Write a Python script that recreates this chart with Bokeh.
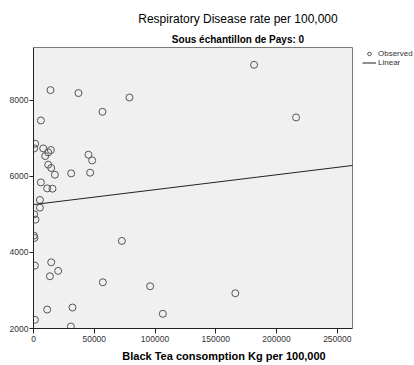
from bokeh.plotting import figure
from bokeh.models import (Range1d, Legend, LegendItem, FixedTicker, ColumnDataSource,
                          Label, BasicTickFormatter)
from bokeh.embed import file_html
from bokeh.resources import INLINE

# Data
tea = [13980, 37000, 56750, 6070, 1400, 580, 7980, 14300, 12090, 9620,
       45230, 48270, 12090, 14560, 17600, 31000, 46630, 6070, 11270, 15630,
       5260, 5260, 580, 1640, 330, 820, 1150, 14560, 20310, 13490,
       57070, 11270, 32070, 1150, 30760, 181500, 78950, 216050, 72700, 95980,
       106400, 166100]
resp = [8261, 8183, 7692, 7464, 6853, 6730, 6730, 6687, 6624, 6530,
        6564, 6415, 6302, 6215, 6039, 6074, 6092, 5837, 5680, 5672,
        5376, 5174, 4998, 4859, 4440, 4380, 3652, 3739, 3513, 3372,
        3214, 2498, 2551, 2228, 2052, 8925, 8067, 7543, 4300, 3110,
        2386, 2926]
fit_intercept = 5255
fit_slope = 0.00391
x_ticks = [0, 50000, 100000, 150000, 200000, 250000]
y_ticks = [2000, 4000, 6000, 8000]
x_lo, x_hi = 0, 262500
y_lo, y_hi = 2000, 9380

title_text = "Respiratory Disease rate per 100,000"
subtitle_text = "Sous échantillon de Pays: 0"
x_label = "Black Tea consomption Kg per 100,000"

FONT = "Liberation Sans"

# Layout (pixels): plot area spans 33..352 x 47..328 on a 414x365 canvas.
W, H = 414, 365
L, R, T, B = 33, 352, 47, 328
area_w, area_h = R - L, B - T
frame_w, frame_h = W - L, B          # frame extended to the right and top edges
xpp = (x_hi - x_lo) / area_w
ypp = (y_hi - y_lo) / area_h
x_ext = x_lo + frame_w * xpp
y_ext = y_lo + frame_h * ypp

p = figure(width=W, height=H, output_backend="svg", toolbar_location=None,
           x_range=Range1d(x_lo, x_ext), y_range=Range1d(y_lo, y_ext),
           min_border_left=L, min_border_right=0, min_border_top=0,
           min_border_bottom=H - B)
p.background_fill_color = "white"
p.border_fill_color = "white"
p.outline_line_color = None
p.grid.visible = False

# plot area background
p.quad(left=[x_lo], right=[x_hi], bottom=[y_lo], top=[y_hi],
       fill_color="#f0f0f0", line_color="#7a7a7a", line_width=1)

for ax in (p.xaxis[0], p.yaxis[0]):
    ax.axis_line_color = "#222222"
    ax.major_tick_line_color = "#222222"
    ax.minor_tick_line_color = None
    ax.major_tick_in = 0
    ax.major_label_text_font = FONT
    ax.major_label_text_font_size = "8.5px"
    ax.major_label_text_color = "#333333"

p.xaxis[0].bounds = (x_lo, x_hi)
p.yaxis[0].bounds = (y_lo, y_hi)
p.xaxis[0].ticker = FixedTicker(ticks=x_ticks)
p.yaxis[0].ticker = FixedTicker(ticks=y_ticks)
p.xaxis[0].formatter = BasicTickFormatter(use_scientific=False)
p.yaxis[0].formatter = BasicTickFormatter(use_scientific=False)
p.xaxis[0].major_tick_out = 5
p.yaxis[0].major_tick_out = 4
p.xaxis[0].major_label_standoff = 2
p.yaxis[0].major_label_standoff = 1
p.xaxis[0].axis_label = x_label
p.xaxis[0].axis_label_text_font = FONT
p.xaxis[0].axis_label_text_font_size = "11px"
p.xaxis[0].axis_label_text_font_style = "bold"
p.xaxis[0].axis_label_text_color = "#000000"
p.xaxis[0].axis_label_standoff = 5

src = ColumnDataSource(dict(x=tea, y=resp))
sc = p.scatter("x", "y", source=src, marker="circle", size=7,
               fill_color=None, line_color="#555555", line_width=1)

fx = [x_lo, x_hi]
fy = [fit_intercept + fit_slope * v for v in fx]
ln = p.line(fx, fy, line_color="#222222", line_width=1)

# titles
cx = x_lo + (237.5 - L) * xpp
p.add_layout(Label(x=cx, y=y_lo + (B - 18) * ypp, text=title_text,
                   text_align="center", text_baseline="middle",
                   text_font=FONT, text_font_size="12px", text_color="#000000"))
p.add_layout(Label(x=cx, y=y_lo + (B - 39) * ypp, text=subtitle_text,
                   text_align="center", text_baseline="middle",
                   text_font=FONT, text_font_size="10px", text_font_style="bold",
                   text_color="#000000"))

legend = Legend(items=[LegendItem(label="Observed", renderers=[sc]),
                       LegendItem(label="Linear", renderers=[ln])],
                location=(362 - L, B - 67), orientation="vertical",
                padding=0, margin=0, spacing=0, label_standoff=2,
                glyph_width=14, glyph_height=9, label_height=9,
                label_text_font=FONT, label_text_font_size="8px",
                label_text_color="#333333",
                border_line_color=None, background_fill_alpha=0)
p.add_layout(legend)

open("out.html", "w").write(file_html(p, INLINE))
